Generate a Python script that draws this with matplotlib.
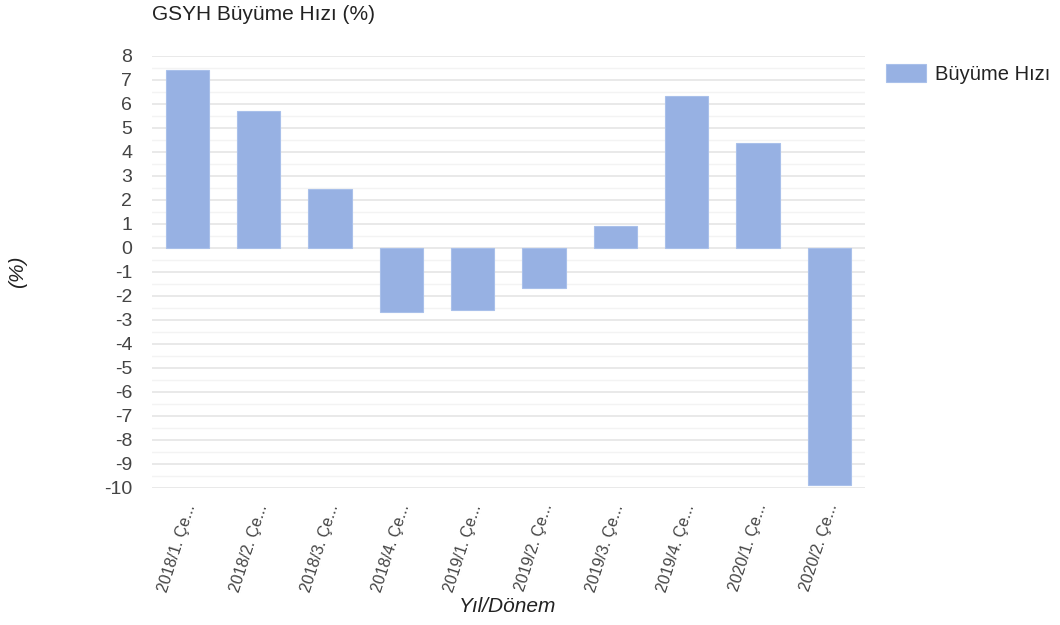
import matplotlib
matplotlib.use("Agg")
import matplotlib.pyplot as plt
import matplotlib.transforms as mtransforms
from matplotlib.ticker import MultipleLocator
import numpy as np

plt.rcParams['font.family'] = ['Liberation Sans', 'DejaVu Sans']

title = "GSYH Büyüme Hızı (%)"
series_name = "Büyüme Hızı"
x_title = "Yıl/Dönem"
y_title = "(%)"
categories = ["2018/1. Çe...", "2018/2. Çe...", "2018/3. Çe...", "2018/4. Çe...",
              "2019/1. Çe...", "2019/2. Çe...", "2019/3. Çe...", "2019/4. Çe...",
              "2020/1. Çe...", "2020/2. Çe..."]
values = [7.4, 5.7, 2.45, -2.7, -2.6, -1.7, 0.9, 6.3, 4.35, -9.9]
y_ticks = list(range(-10, 9))

bar_color = "#97b1e3"
edge_color = "#a9c0ea"
text_color = "#444444"

fig = plt.figure(figsize=(10.6, 6.25), dpi=100)
ax = fig.add_axes([151.7 / 1060, 1 - 487.5 / 625, (865 - 151.7) / 1060, (487.5 - 55.5) / 625])

x = np.arange(len(categories))
ax.bar(x, values, width=0.61, color=bar_color, edgecolor=edge_color, linewidth=0.8,
       label=series_name, zorder=3)

ax.set_xlim(-0.5, len(categories) - 0.5)
ax.set_ylim(-10, 8)
ax.set_yticks(y_ticks)
ax.set_yticklabels([str(t) for t in y_ticks])
ax.yaxis.set_minor_locator(MultipleLocator(0.5))
ax.grid(axis='y', which='major', color='#e3e3e3', linewidth=1.1, zorder=0)
ax.grid(axis='y', which='minor', color='#f3f3f3', linewidth=1.0, zorder=0)
for s in ax.spines.values():
    s.set_visible(False)
ax.tick_params(axis='y', which='both', length=0, pad=14, labelsize=14, labelcolor=text_color)
ax.tick_params(axis='x', length=0, pad=12)

ax.set_xticks(x)
ax.set_xticklabels(categories, rotation=72, ha='right', va='center',
                   rotation_mode='anchor', fontsize=11.5, color=text_color)
offset = mtransforms.ScaledTranslation(4 / 100, 0, fig.dpi_scale_trans)
for lab in ax.get_xticklabels():
    lab.set_transform(lab.get_transform() + offset)

fig.text(152 / 1060, 1 - 14 / 625, title, fontsize=15, color='#222222', ha='left', va='center')
fig.text(508 / 1060, 1 - 607 / 625, x_title, fontsize=15, style='italic', color='#222222',
         ha='center', va='center')
fig.text(18 / 1060, 1 - 272 / 625, y_title, fontsize=15, style='italic', color='#222222',
         ha='center', va='center', rotation=90)

leg = ax.legend(loc='upper left', bbox_to_anchor=(872 / 1060, 1 - 50 / 625),
                bbox_transform=fig.transFigure, frameon=False, fontsize=14.5,
                handlelength=2.0, handleheight=1.0, handletextpad=0.45, borderpad=0.2)
for t in leg.get_texts():
    t.set_color('#222222')

fig.savefig("out.png", dpi=100)
